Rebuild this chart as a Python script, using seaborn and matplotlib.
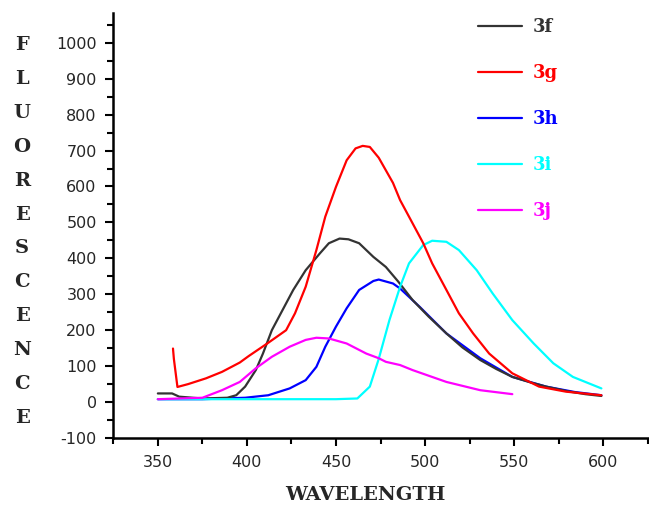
import matplotlib
matplotlib.use("Agg")
import matplotlib.pyplot as plt
import seaborn as sns
import numpy as np

# emission spectra (wavelength nm, fluorescence a.u.)
x_3f = [350, 358, 362, 375, 389, 394, 399, 405, 409, 414, 420, 426, 433, 441, 446, 452,
        457, 463, 471, 478, 485, 493, 502, 512, 521, 531, 540, 549, 559, 568, 580, 590, 599]
y_3f = [24, 24, 15, 10, 12, 19, 43, 89, 135, 200, 256, 312, 367, 414, 442, 455,
        453, 442, 404, 376, 335, 284, 238, 191, 152, 117, 92, 70, 55, 43, 30, 22, 17]

x_3g = [358.5, 359, 361, 367, 377, 386, 396, 401, 412, 422, 427, 433, 439, 444, 450, 456,
        461, 465, 469, 474, 482, 486, 491, 499, 504, 512, 519, 527, 536, 549, 564, 579, 599]
y_3g = [149, 120, 42, 50, 66, 84, 110, 128, 165, 200, 247, 321, 423, 516, 599, 673,
        706, 713, 710, 680, 610, 562, 516, 442, 386, 312, 247, 191, 135, 80, 43, 29, 19]

x_3h = [350, 375, 399, 412, 424, 433, 439, 444, 450, 456, 463, 471, 474, 482, 486, 497,
        512, 531, 549, 568, 584, 599]
y_3h = [8, 8, 12, 19, 38, 61, 98, 154, 210, 261, 312, 337, 341, 330, 316, 265,
        191, 122, 70, 43, 28, 19]

x_3i = [350, 375, 400, 425, 450, 462, 469, 474, 480, 486, 491, 499, 504, 512, 519, 529,
        538, 549, 561, 572, 583, 599]
y_3i = [8, 8, 8, 8, 8, 10, 43, 120, 228, 321, 386, 437, 449, 446, 423, 367,
        302, 228, 163, 108, 70, 38]

x_3j = [350, 375, 386, 396, 405, 414, 424, 433, 439, 446, 456, 467, 474, 478, 486, 493,
        512, 531, 549]
y_3j = [8, 12, 33, 56, 94, 126, 154, 173, 179, 177, 163, 135, 122, 112, 103, 89,
        56, 33, 22]

series = [
    ("3f", x_3f, y_3f, "#333333", 3),
    ("3g", x_3g, y_3g, "#ff0000", 4),
    ("3h", x_3h, y_3h, "#0000ff", 2),
    ("3i", x_3i, y_3i, "#00ffff", 3),
    ("3j", x_3j, y_3j, "#ff00ff", 4),
]

sns.set_style("ticks")
plt.rcParams["font.family"] = ["DejaVu Sans"]
plt.rcParams["axes.unicode_minus"] = False

fig = plt.figure(figsize=(6.49, 5.09), dpi=100)
ax = fig.add_axes([0.1746, 0.1395, 0.8234, 0.8344])

for name, xs, ys, col, z in series:
    sns.lineplot(x=xs, y=ys, color=col, label=name, linewidth=1.6, sort=False,
                 ax=ax, zorder=z)

ax.set_xlim(325, 625)
ax.set_ylim(-100, 1082)
ax.set_xticks(np.arange(350, 601, 50))
ax.set_xticks(np.arange(325, 626, 25), minor=True)
ax.set_yticks(np.arange(-100, 1001, 100))
ax.set_yticks(np.arange(-100, 1051, 50), minor=True)
ax.tick_params(axis="both", which="major", direction="out", length=6, width=1.5,
               labelsize=11.5, pad=6, color="black")
ax.tick_params(axis="both", which="minor", direction="out", length=4, width=1.5,
               color="black")

sns.despine(ax=ax)
for s in ["left", "bottom"]:
    ax.spines[s].set_linewidth(1.8)
    ax.spines[s].set_color("black")

ax.set_xlabel("")
ax.set_ylabel("")

fig.text(0.5624, 0.027, "WAVELENGTH", ha="center", va="center",
         family="DejaVu Serif", fontweight="bold", fontsize=14)

letters = list("FLUORESCENCE")
top_px, step_px = 45, 33.9
for i, ch in enumerate(letters):
    fig.text(22 / 649, 1 - (top_px + i * step_px) / 509, ch, ha="center", va="center",
             family="DejaVu Serif", fontweight="bold", fontsize=14)

leg = ax.legend(loc="upper left", bbox_to_anchor=(462 / 649, 1 - 2 / 509),
                bbox_transform=fig.transFigure, frameon=False, labelcolor="linecolor",
                prop={"family": "DejaVu Serif", "weight": "bold", "size": 13},
                handlelength=2.4, handletextpad=0.6, labelspacing=1.55)
for line in leg.get_lines():
    line.set_linewidth(1.6)

plt.savefig("out.png", dpi=100)
